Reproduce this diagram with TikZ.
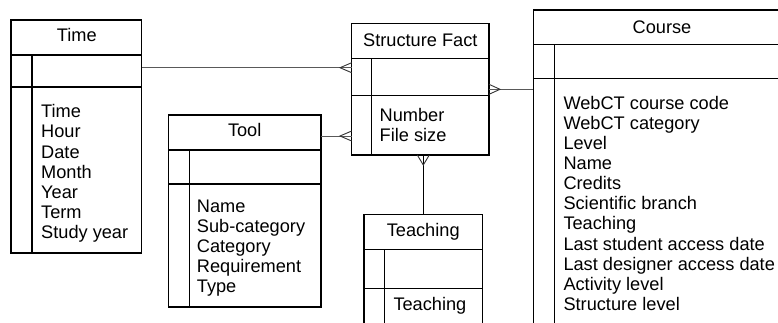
\documentclass[tikz,border=0pt]{standalone}
\usepackage{fontspec}
\setmainfont{Liberation Sans}
\begin{document}
\begin{tikzpicture}[x=1pt,y=-1pt,
  ent/.style={draw, line width=1.3pt, anchor=north west, inner sep=0pt, outer sep=0pt},
  div/.style={line width=1.3pt},
  txt/.style={inner sep=0pt, font=\fontsize{18.2}{20}\selectfont, text=black},
  conn/.style={line width=0.9pt, draw=black!65},
  crow/.style={line width=0.9pt, draw=black!80}]
\useasboundingbox (0,0) rectangle (778,322);
\clip (0,0) rectangle (778,322);

% Time
\node[ent, minimum width=130.7pt, minimum height=233pt] (time) at (11,20) {};
\draw[div] (time.west |- 0,55) -- (time.east |- 0,55);
\draw[div] (time.west |- 0,87) -- (time.east |- 0,87);
\draw[div] (32,55) -- (time.south -| 32,0);
\node[txt, anchor=base] (time-title) at (76.8,41.5) {Time};
\foreach [count=\i] \t in {Time,Hour,Date,Month,Year,Term,Study year}
  \node[txt, anchor=base west] (time-\i) at (41,{117.8+20.1*(\i-1)}) {\t};

% Structure Fact
\node[ent, minimum width=137.3pt, minimum height=131.7pt] (sf) at (351.7,23.3) {};
\draw[div] (sf.west |- 0,58.3) -- (sf.east |- 0,58.3);
\draw[div] (sf.west |- 0,95.7) -- (sf.east |- 0,95.7);
\draw[div] (371.7,58.3) -- (sf.south -| 371.7,0);
\node[txt, anchor=base] (sf-title) at (420.3,46.5) {Structure Fact};
\node[txt, anchor=base west] (sf-1) at (379.5,121.2) {Number};
\node[txt, anchor=base west] (sf-2) at (379.5,141.2) {File size};

% Tool
\node[ent, minimum width=152.7pt, minimum height=192pt] (tool) at (168.3,115) {};
\draw[div] (tool.west |- 0,150) -- (tool.east |- 0,150);
\draw[div] (tool.west |- 0,184) -- (tool.east |- 0,184);
\draw[div] (189.3,150) -- (tool.south -| 189.3,0);
\node[txt, anchor=base] (tool-title) at (244.7,136.5) {Tool};
\foreach [count=\i] \t in {Name,Sub-category,Category,Requirement,Type}
  \node[txt, anchor=base west] (tool-\i) at (196.7,{212.5+20*(\i-1)}) {\t};

% Teaching
\node[ent, minimum width=118.3pt, minimum height=130pt] (teach) at (364,214.3) {};
\draw[div] (teach.west |- 0,249.3) -- (teach.east |- 0,249.3);
\draw[div] (teach.west |- 0,288.3) -- (teach.east |- 0,288.3);
\draw[div] (384.3,249.3) -- (teach.south -| 384.3,0);
\node[txt, anchor=base] (teach-title) at (423.2,236) {Teaching};
\node[txt, anchor=base west] (teach-1) at (393.3,310) {Teaching};

% Course
\node[ent, minimum width=258pt, minimum height=340pt] (course) at (533.3,10) {};
\draw[div] (course.west |- 0,44.3) -- (course.east |- 0,44.3);
\draw[div] (course.west |- 0,78.3) -- (course.east |- 0,78.3);
\draw[div] (554.3,44.3) -- (course.south -| 554.3,0);
\node[txt, anchor=base] (course-title) at (662,33.3) {Course};
\foreach [count=\i] \t in {WebCT course code,WebCT category,Level,Name,Credits,Scientific branch,Teaching,Last student access date,Last designer access date,Activity level,Structure level}
  \node[txt, anchor=base west] (course-\i) at (563.3,{109+20.15*(\i-1)}) {\t};

% Connectors
\draw[conn] (time.east |- 0,67.7) -- (sf.west |- 0,67.7);
\draw[crow] (sf.west |- 0,62.7) -- (340,67.7) -- (sf.west |- 0,72.7);

\draw[conn] (tool.east |- 0,136) -- (sf.west |- 0,136);
\draw[crow] (sf.west |- 0,131) -- (340,136) -- (sf.west |- 0,141);

\draw[conn] (sf.east |- 0,89.3) -- (course.west |- 0,89.3);
\draw[crow] (sf.east |- 0,84.3) -- (500,89.3) -- (sf.east |- 0,94.3);

\draw[line width=1.1pt] (sf.south -| 423.3,0) -- (teach.north -| 423.3,0);
\draw[crow] (417.3,0 |- sf.south) -- (423.3,165) -- (429.3,0 |- sf.south);
\end{tikzpicture}
\end{document}
